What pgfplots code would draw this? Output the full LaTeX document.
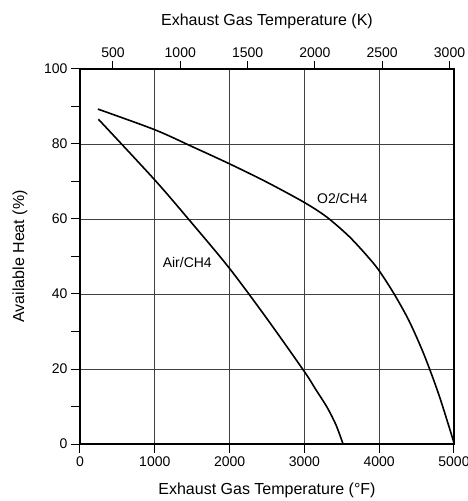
\documentclass[border=0pt]{standalone}
\usepackage{fontspec}
\setmainfont{Liberation Sans}
\usepackage{pgfplots}
\pgfplotsset{compat=1.18}

\begin{document}
\begin{tikzpicture}
\begin{axis}[
    name=main,
    scale only axis,
    width=374pt, height=375pt,
    xmin=0, xmax=5000, ymin=0, ymax=100,
    xtick={0,1000,...,5000},
    ytick={0,20,...,100},
    minor ytick={10,30,...,90},
    xtick pos=bottom, ytick pos=left,
    tick align=outside,
    major tick length=9pt, minor tick length=9pt,
    every tick/.style={black, line width=1pt},
    axis line style={black, line width=1.5pt},
    grid=major,
    grid style={black!75, line width=0.6pt},
    /pgf/number format/assume math mode=true,
    /pgf/number format/1000 sep={},
    tick label style={font=\fontsize{14}{16}\selectfont},
    label style={font=\fontsize{16}{18}\selectfont},
    xlabel={Exhaust Gas Temperature (°F)},
    ylabel={Available Heat (\%)},
    xlabel style={at={(axis description cs:0.5,0)}, anchor=center, yshift=-46pt},
    ylabel style={at={(axis description cs:-0.1604,0.5)}, anchor=center},
]
% O2/CH4
\addplot[black, line width=1.6pt, smooth, tension=0.5] coordinates {
    (240,89.3) (1000,83.8) (1500,79.3) (2000,74.7) (2500,69.8) (3000,64.4)
    (3300,60.5) (3600,55.3) (3850,49.9) (4000,46.2) (4200,40.0) (4400,32.8)
    (4600,23.8) (4800,13.0) (5000,0.3)
};
% Air/CH4
\addplot[black, line width=1.6pt, smooth, tension=0.5] coordinates {
    (246,86.6) (1000,70.4) (1500,58.8) (2000,46.8) (2500,33.4) (3000,19.3)
    (3150,14.6) (3300,9.9) (3420,5.2) (3517,0.0)
};
\node[font=\fontsize{14}{16}\selectfont] at (axis cs:1434,48.3) {Air/CH4};
\node[font=\fontsize{14}{16}\selectfont] at (axis cs:3508,65.5) {O2/CH4};
\end{axis}
\begin{axis}[
    scale only axis,
    width=374pt, height=375pt,
    xmin=255.37, xmax=3033.15, ymin=0, ymax=100,
    axis x line*=top, axis y line=none,
    xtick={500,1000,...,3000},
    tick align=outside,
    major tick length=8pt,
    every tick/.style={black, line width=1pt},
    axis line style={black, line width=1.5pt},
    /pgf/number format/assume math mode=true,
    /pgf/number format/1000 sep={},
    tick label style={font=\fontsize{14}{16}\selectfont},
    label style={font=\fontsize{16}{18}\selectfont},
    xlabel={Exhaust Gas Temperature (K)},
    xlabel style={at={(axis description cs:0.5,1)}, anchor=center, yshift=48pt},
]
\end{axis}
\pgfresetboundingbox
\path[use as bounding box] ([shift={(-80pt,-57pt)}]main.south west) rectangle ([shift={(387pt,444pt)}]main.south west);
\end{tikzpicture}
\end{document}
